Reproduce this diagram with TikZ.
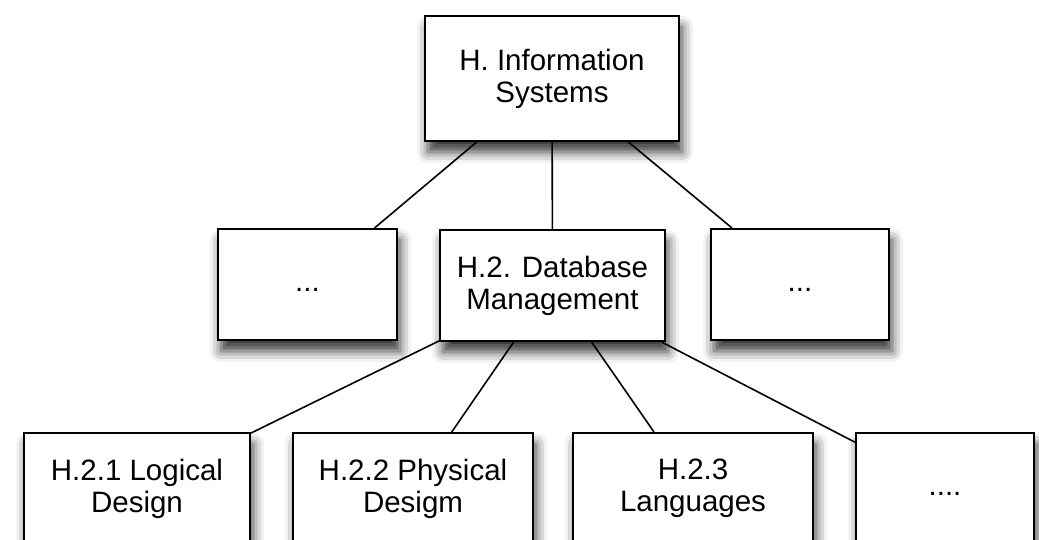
\documentclass[tikz,border=0pt]{standalone}
\usepackage{fontspec}
\setmainfont{Liberation Sans}
\usetikzlibrary{shadows.blur}

\tikzset{
  catbox/.style={draw, line width=2pt, fill=white, align=center, inner sep=0pt,
    minimum height=111pt, font=\fontsize{29.5}{32}\selectfont,
    blur shadow={shadow xshift=3pt, shadow yshift=-11pt,
      shadow blur radius=11pt, shadow opacity=80}},
  link/.style={line width=1.6pt}
}

\begin{document}
\begin{tikzpicture}[x=1pt, y=-1pt]
  \useasboundingbox (0,0) rectangle (1039,539);

  % root of the classification
  \node[catbox, minimum width=254pt, minimum height=125pt] (H) at (552,78.5) {H. Information\\Systems};

  % second level
  \node[catbox, minimum width=179pt] (Hleft)  at (307.5,284.5) {\vphantom{Hg}...};
  \node[catbox, minimum width=225pt] (H2)     at (552.5,285.5) {H.2. Database\\Management};
  \node[catbox, minimum width=178pt] (Hright) at (800,284.5)   {\vphantom{Hg}...};

  % third level (cut off at the bottom)
  \node[catbox, minimum width=226pt] (H21)  at (137,488.5) {H.2.1 Logical\\Design};
  \node[catbox, minimum width=240pt] (H22)  at (413,488.5) {H.2.2 Physical\\Desigm};
  \node[catbox, minimum width=240pt] (H23)  at (693,488.5) {H.2.3\\Languages};
  \node[catbox, minimum width=178pt] (H2x)  at (945,488.5) {\vphantom{Hg}....};

  % links
  \draw[link] (H) -- (Hleft);
  \draw[link] (H) -- (H2);
  \draw[link] (H) -- (Hright);
  \draw[link] (H2) -- (H21);
  \draw[link] (H2) -- (H22);
  \draw[link] (H2) -- (H23);
  \draw[link] (H2) -- (H2x);
\end{tikzpicture}
\end{document}
